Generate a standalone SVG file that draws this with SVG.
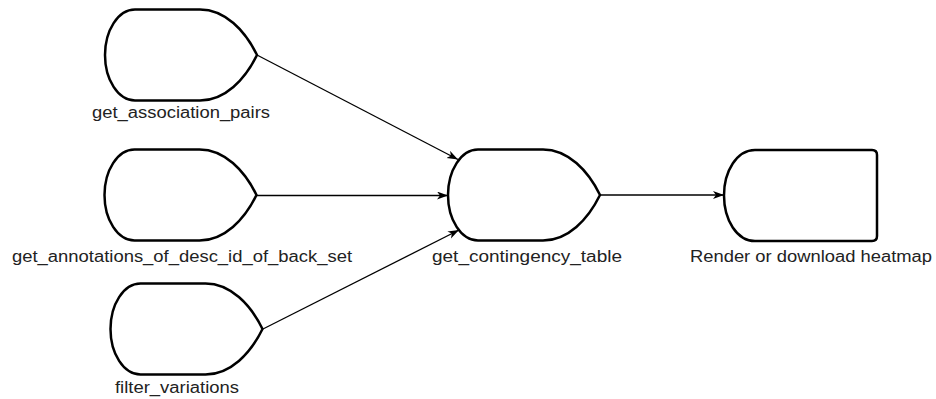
<svg xmlns="http://www.w3.org/2000/svg" width="936" height="399" viewBox="0 0 936 399">
  <defs>
    <style>
      .node { fill: #ffffff; stroke: #000000; stroke-width: 2.5; stroke-linejoin: round; }
      .lbl { font-family: "Liberation Sans", Arial, sans-serif; font-size: 16px; fill: #222222; text-anchor: middle; }
      .edge { fill: none; stroke: #000000; stroke-width: 1.3; }
    </style>
    <path id="disp" d="M30,0 L95,0 C120,0 140,21 152,45.5 C140,70 120,91 95,91 L30,91 C13,91 0,70 0,45.5 C0,21 13,0 30,0 Z"/>
    <marker id="arr" markerWidth="12" markerHeight="10" refX="11" refY="4" orient="auto" markerUnits="userSpaceOnUse">
      <path d="M0,0 L11,4 L0,8 L3,4 Z" fill="#000000"/>
    </marker>
  </defs>
  <rect width="936" height="399" fill="#ffffff"/>

  <g id="connectors">
    <line class="edge" x1="257" y1="55" x2="458" y2="159.5" marker-end="url(#arr)"/>
    <line class="edge" x1="257" y1="195.5" x2="448" y2="195.5" marker-end="url(#arr)"/>
    <line class="edge" x1="263" y1="329" x2="459" y2="230" marker-end="url(#arr)"/>
    <line class="edge" x1="601" y1="195" x2="724" y2="195" marker-end="url(#arr)"/>
  </g>

  <g id="get_association_pairs">
    <use href="#disp" class="node" x="105" y="9.5"/>
    <text class="lbl" x="181" y="118" textLength="178" lengthAdjust="spacingAndGlyphs">get_association_pairs</text>
  </g>
  <g id="get_annotations_of_desc_id_of_back_set">
    <use href="#disp" class="node" x="104.5" y="149.5"/>
    <text class="lbl" x="182" y="262" textLength="340" lengthAdjust="spacingAndGlyphs">get_annotations_of_desc_id_of_back_set</text>
  </g>
  <g id="filter_variations">
    <use href="#disp" class="node" x="110.5" y="283.5"/>
    <text class="lbl" x="177" y="393" textLength="124" lengthAdjust="spacingAndGlyphs">filter_variations</text>
  </g>
  <g id="get_contingency_table">
    <use href="#disp" class="node" x="448" y="149.5"/>
    <text class="lbl" x="527" y="262" textLength="190" lengthAdjust="spacingAndGlyphs">get_contingency_table</text>
  </g>
  <g id="render_heatmap">
    <path class="node" d="M755,150 L872,150 Q877,150 877,155 L877,236 Q877,241 872,241 L755,241 C737,241 724,220 724,195.5 C724,171 737,150 755,150 Z"/>
    <text class="lbl" x="811" y="262" textLength="242" lengthAdjust="spacingAndGlyphs">Render or download heatmap</text>
  </g>
</svg>
